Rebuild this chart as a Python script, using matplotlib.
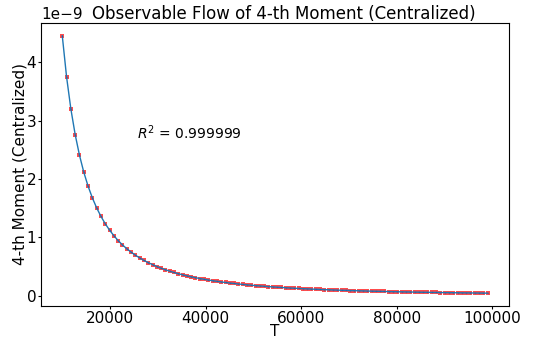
import numpy as np
import matplotlib
matplotlib.use("Agg")
import matplotlib.pyplot as plt

# sample grid (T) and observed 4-th moment, in units of 1e-9
T = np.linspace(10000, 99000, 100)
MOMENT = [
    4.455, 3.750, 3.201, 2.763, 2.410, 2.120, 1.880, 1.678, 1.507, 1.361,
    1.235, 1.126, 1.031, 0.947, 0.873, 0.808, 0.749, 0.697, 0.650, 0.607,
    0.569, 0.534, 0.502, 0.473, 0.447, 0.422, 0.400, 0.379, 0.360, 0.342,
    0.326, 0.311, 0.296, 0.283, 0.271, 0.259, 0.248, 0.238, 0.228, 0.219,
    0.211, 0.203, 0.195, 0.188, 0.181, 0.175, 0.169, 0.163, 0.158, 0.1525,
    0.1475, 0.143, 0.138, 0.134, 0.130, 0.126, 0.122, 0.119, 0.115, 0.112,
    0.109, 0.106, 0.103, 0.100, 0.0977, 0.0951, 0.0927, 0.0903, 0.0880, 0.0859,
    0.0838, 0.0817, 0.0798, 0.0779, 0.0761, 0.0743, 0.0726, 0.0710, 0.0694, 0.0679,
    0.0664, 0.0650, 0.0636, 0.0622, 0.0609, 0.0597, 0.0584, 0.0573, 0.0561, 0.0550,
    0.0539, 0.0529, 0.0518, 0.0508, 0.0499, 0.0489, 0.0480, 0.0472, 0.0463, 0.0455,
]
R2_TEXT = r"$R^2$ = 0.999999"

y = np.array(MOMENT) * 1e-9

fig = plt.figure(figsize=(5.39, 3.41), dpi=100)
ax = fig.add_axes([0.0761, 0.1026, 0.868, 0.83])

ax.plot(T, y, linestyle="none", marker="s", markersize=2.6, color="red", alpha=0.7, markeredgewidth=0, zorder=2)
ax.plot(T, y, color="tab:blue", linewidth=1.0, zorder=3)
ax.plot(T, y, linestyle="none", marker="o", markersize=1.2, color="#1f4e9a", alpha=0.4, markeredgewidth=0, zorder=4)

ax.text(25600, 2.8e-9, R2_TEXT, fontsize=10, ha="left", va="center")

ax.set_xlabel("T", fontsize=11)
ax.xaxis.set_label_coords(0.5, -0.062)
ax.set_ylabel("4-th Moment (Centralized)", fontsize=11)
ax.yaxis.set_label_coords(-0.029, 0.5)
ax.set_title("Observable Flow of 4-th Moment (Centralized)", fontsize=12, x=0.519, pad=3)
ax.tick_params(labelsize=11, length=2, pad=1.5)
ax.yaxis.get_offset_text().set_fontsize(11)

fig.savefig("out.png", dpi=100)
